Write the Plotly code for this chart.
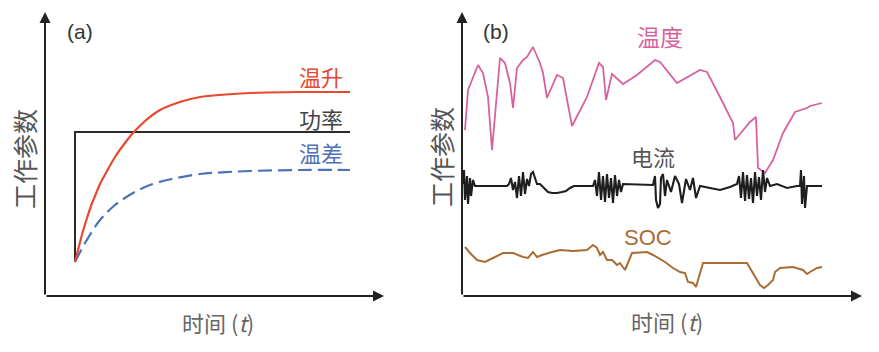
import plotly.graph_objects as go

W, H = 879, 352

# ---------------- Panel (a): idealised response ----------------
a_t_rise = [0, 4, 8, 12, 16, 20, 25, 32, 40, 50, 58, 70, 85, 105, 125, 175, 225, 275]
a_v_rise = [34, 50, 65, 78, 90, 100, 112, 125, 139, 153, 163, 175, 186, 194, 199, 203, 204, 204]

a_t_diff = [0, 10, 25, 40, 58, 75, 92, 125, 175, 225, 275]
a_v_diff = [34, 53, 76, 91, 103, 111, 116, 122, 125, 126, 126]

a_t_power = [0, 0, 275]
a_v_power = [34, 164, 164]

# ---------------- Panel (b): measured-like signals ----------------
b_t_temp = [3, 6, 16, 21, 26, 30, 38, 43, 48, 51, 55, 61, 65, 71, 78, 81, 85, 95, 101, 110,
            125, 137, 141, 144, 150, 161, 175, 193, 198, 215, 238, 245, 258, 271, 273, 288,
            294, 296, 303, 311, 321, 333, 345, 348, 360]
b_v_temp = [166, 206, 231, 223, 199, 146, 238, 233, 213, 188, 228, 236, 239, 249, 233, 223,
            198, 221, 218, 170, 199, 233, 229, 196, 222, 212, 221, 236, 234, 213, 226, 224,
            199, 173, 156, 174, 179, 128, 123, 136, 163, 184, 188, 190, 193]

b_t_cur = [1, 2, 3, 5, 6, 8, 9, 11, 13, 45, 47, 49, 51, 53, 55, 57, 59, 61, 63, 65, 67, 69,
           71, 73, 75, 78, 82, 86, 90, 95, 100, 104, 108, 112, 131, 133, 135, 137, 139, 141,
           143, 145, 147, 149, 151, 153, 155, 157, 159, 161, 191, 193, 194, 196, 198, 199,
           201, 203, 205, 209, 213, 217, 220, 224, 228, 231, 234, 238, 248, 258, 268, 275,
           277, 279, 281, 283, 285, 287, 289, 291, 293, 295, 297, 299, 301, 303, 305, 308,
           315, 325, 335, 338, 339, 340, 342, 343, 345, 360]
b_v_cur = [112, 126, 96, 120, 92, 118, 100, 116, 110, 110, 112, 118, 106, 114, 98, 120, 100,
           124, 102, 117, 110, 122, 124, 118, 112, 112, 108, 104, 103, 103, 104, 105, 108, 110,
           110, 116, 100, 124, 96, 120, 94, 122, 98, 118, 93, 121, 100, 116, 104, 112, 111,
           120, 96, 88, 92, 118, 122, 100, 116, 104, 120, 112, 93, 117, 106, 118, 98, 110, 108,
           106, 109, 112, 120, 98, 124, 95, 121, 97, 118, 93, 124, 100, 119, 96, 126, 104, 118,
           110, 112, 108, 110, 110, 126, 92, 120, 88, 110, 110]

b_t_soc = [3, 8, 15, 23, 31, 41, 51, 61, 66, 71, 75, 80, 90, 98, 111, 125, 131, 135, 138,
           141, 145, 150, 155, 158, 163, 166, 170, 185, 191, 203, 211, 218, 223, 226, 231,
           234, 236, 241, 285, 291, 298, 302, 306, 311, 313, 318, 331, 341, 345, 348, 355, 360]
b_v_soc = [49, 43, 36, 34, 38, 43, 43, 39, 38, 44, 39, 41, 44, 46, 45, 46, 51, 48, 41, 44,
           36, 36, 31, 33, 26, 34, 43, 44, 41, 34, 28, 24, 23, 14, 13, 9, 16, 33, 33, 23, 11,
           8, 11, 16, 24, 28, 29, 26, 22, 24, 28, 29]

CJK = "Noto Sans CJK SC"
LAT = "Liberation Sans"
AX = "#222222"


def px(x):
    return x / W


def py(y):
    return 1 - y / H


fig = go.Figure()

# panel (a)
fig.add_trace(go.Scatter(x=a_t_power, y=a_v_power, mode="lines",
                         line=dict(color="#2b2b2b", width=2), xaxis="x", yaxis="y"))
fig.add_trace(go.Scatter(x=a_t_diff, y=a_v_diff, mode="lines",
                         line=dict(color="#4d72b8", width=2.2, dash="14px,6px",
                                   shape="spline", smoothing=0.8),
                         xaxis="x", yaxis="y"))
fig.add_trace(go.Scatter(x=a_t_rise, y=a_v_rise, mode="lines",
                         line=dict(color="#e8482f", width=2.2, shape="spline", smoothing=0.6),
                         xaxis="x", yaxis="y"))

# panel (b)
fig.add_trace(go.Scatter(x=b_t_temp, y=b_v_temp, mode="lines",
                         line=dict(color="#d8629f", width=1.8), xaxis="x2", yaxis="y2"))
fig.add_trace(go.Scatter(x=b_t_cur, y=b_v_cur, mode="lines",
                         line=dict(color="#1e1e1e", width=2.1), xaxis="x2", yaxis="y2"))
fig.add_trace(go.Scatter(x=b_t_soc, y=b_v_soc, mode="lines",
                         line=dict(color="#a96c35", width=2), xaxis="x2", yaxis="y2"))

axis_common = dict(showgrid=False, zeroline=False, showticklabels=False, ticks="",
                   showline=False, fixedrange=True)

fig.update_layout(
    width=W, height=H,
    margin=dict(l=0, r=0, t=0, b=0),
    paper_bgcolor="white", plot_bgcolor="white",
    showlegend=False,
    xaxis=dict(domain=[px(45), px(384)], range=[-30, 309], **axis_common),
    yaxis=dict(domain=[py(296), py(12)], range=[0, 284], **axis_common),
    xaxis2=dict(domain=[px(462), px(862)], range=[0, 400], **axis_common),
    yaxis2=dict(domain=[py(296), py(12)], range=[0, 284], **axis_common),
)

ann = []
# axis arrows
for xr, yr, x0, x1 in (("x", "y", -30, 309), ("x2", "y2", 0, 400)):
    ann.append(dict(x=x1, y=0, ax=x0, ay=0, xref=xr, yref=yr, axref=xr, ayref=yr,
                    showarrow=True, arrowhead=2, arrowsize=1.1, arrowwidth=2,
                    arrowcolor=AX, text="", standoff=0))
    ann.append(dict(x=x0, y=284, ax=x0, ay=0, xref=xr, yref=yr, axref=xr, ayref=yr,
                    showarrow=True, arrowhead=2, arrowsize=1.1, arrowwidth=2,
                    arrowcolor=AX, text="", standoff=0))


def label(text, x, y, size, color, family=CJK, angle=0):
    ann.append(dict(text=text, x=px(x), y=py(y), xref="paper", yref="paper",
                    showarrow=False, xanchor="center", yanchor="middle",
                    textangle=angle, font=dict(size=size, color=color, family=family)))


label("(a)", 80, 31, 21, "#333333", LAT)
label("(b)", 496, 31, 21, "#333333", LAT)
label("温升", 321, 76, 22, "#e8482f")
label("功率", 321, 118, 22, "#444444")
label("温差", 321, 152, 22, "#4d72b8")
label("工作参数", 24, 159, 25, "#555555", angle=-90)
label("工作参数", 441, 157, 25, "#555555", angle=-90)
label("时间 (<i>t</i>)", 218, 322, 22, "#666666")
label("时间 (<i>t</i>)", 667, 321, 22, "#666666")
label("温度", 660, 36, 23, "#d8629f")
label("电流", 653, 156, 22, "#555555")
label("SOC", 648, 237, 22, "#a96c35", LAT)

fig.update_layout(annotations=ann)

fig.write_html("out.html")
